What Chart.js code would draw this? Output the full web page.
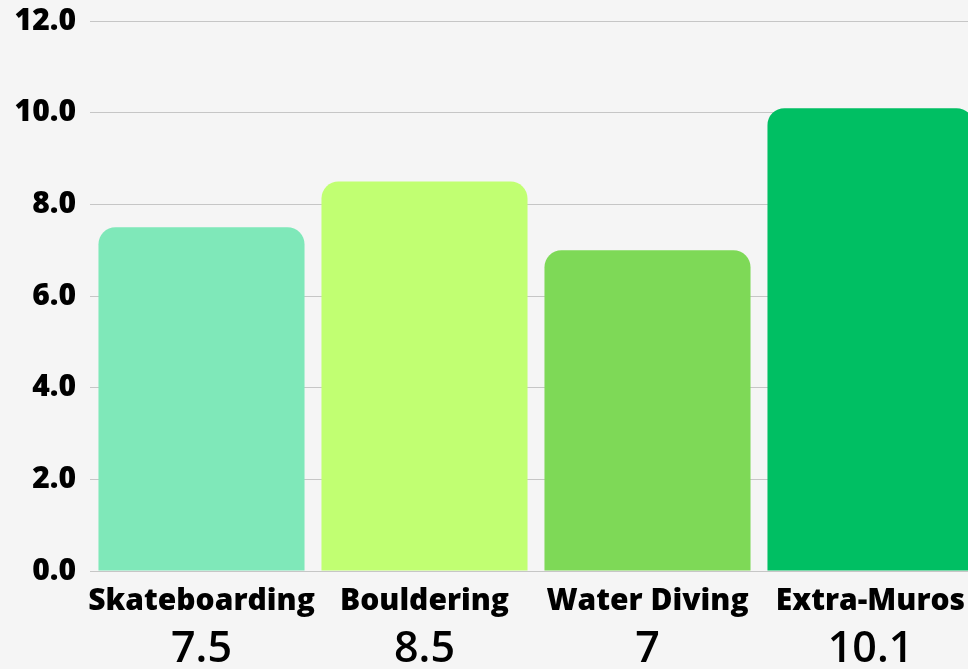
<!DOCTYPE html>
<html>
<head>
<meta charset="utf-8">
<script src="https://cdn.jsdelivr.net/npm/chart.js@4/dist/chart.umd.min.js"></script>
<style>
  html, body { margin: 0; padding: 0; background: #f5f5f5; overflow: hidden; }
  #wrap { width: 982px; height: 669px; }
</style>
</head>
<body>
<div id="wrap"><canvas id="chart"></canvas></div>
<script>
// Data
const categories = ['Skateboarding', 'Bouldering', 'Water Diving', 'Extra-Muros'];
const scores = [7.5, 8.5, 7, 10.1];
const barColors = ['#7fe8b9', '#c1ff72', '#7ed957', '#00bf63'];
const valueLabels = scores.map(v => String(v));

Chart.defaults.font.family = '"Open Sans", sans-serif';
Chart.defaults.color = '#000';

new Chart(document.getElementById('chart'), {
  type: 'bar',
  data: {
    labels: categories,
    datasets: [{
      data: scores,
      backgroundColor: barColors,
      borderWidth: 0,
      borderRadius: { topLeft: 17, topRight: 17 },
      borderSkipped: false,
      categoryPercentage: 1,
      barPercentage: 0.924,
      xAxisID: 'x',
    }]
  },
  options: {
    responsive: true,
    maintainAspectRatio: false,
    animation: false,
    layout: { padding: { top: 1, left: 0, right: 0, bottom: 0 } },
    plugins: { legend: { display: false }, tooltip: { enabled: false } },
    scales: {
      y: {
        min: 0,
        max: 12,
        ticks: {
          stepSize: 2,
          padding: 14,
          font: { size: 30, weight: 800, lineHeight: 0.47 },
          callback: v => v.toFixed(1),
        },
        grid: { color: '#c6c6c6', lineWidth: 1, drawTicks: false },
        border: { display: false },
        afterFit: s => { s.width = 90; },
      },
      x: {
        position: 'bottom',
        weight: 0,
        grid: { display: false, drawTicks: false },
        border: { display: false },
        ticks: { padding: 12, font: { size: 30, weight: 800 }, maxRotation: 0, autoSkip: false },
        afterFit: s => { s.height = 53; },
      },
      x2: {
        type: 'category',
        labels: valueLabels,
        position: 'bottom',
        weight: 1,
        grid: { display: false, drawTicks: false },
        border: { display: false },
        ticks: { padding: 0, font: { size: 43, weight: 600 }, maxRotation: 0, autoSkip: false },
        afterFit: s => { s.height = 45; },
      }
    }
  }
});
</script>
</body>
</html>
